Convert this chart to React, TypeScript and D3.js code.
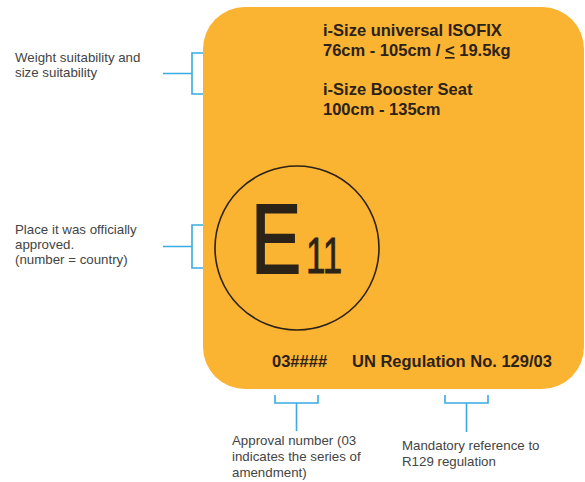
import React from 'react'
import * as d3 from 'd3'

// label texts
const labelLines = ['i-Size universal ISOFIX', '76cm - 105cm / ', 'i-Size Booster Seat', '100cm - 135cm']
const weightNote = ['Weight suitability and', 'size suitability']
const placeNote = ['Place it was officially', 'approved.', '(number = country)']
const approvalNote = ['Approval number (03', 'indicates the series of', 'amendment)']
const regulationNote = ['Mandatory reference to', 'R129 regulation']
const approvalCode = '03####'
const regulationText = 'UN Regulation No. 129/03'

const W = 585
const H = 482
const ORANGE = '#FBB332'
const BLUE = '#3AAAE2'
const INK = '#2b2218'
const GRAY = '#444'

function roundedRect(x0: number, y0: number, x1: number, y1: number, r: number) {
  const p = d3.path()
  p.moveTo(x0 + r, y0)
  p.lineTo(x1 - r, y0)
  p.arcTo(x1, y0, x1, y0 + r, r)
  p.lineTo(x1, y1 - r)
  p.arcTo(x1, y1, x1 - r, y1, r)
  p.lineTo(x0 + r, y1)
  p.arcTo(x0, y1, x0, y1 - r, r)
  p.lineTo(x0, y0 + r)
  p.arcTo(x0, y0, x0 + r, y0, r)
  p.closePath()
  return p.toString()
}

// side bracket: stem from left, vertical bar, ticks to the right
function sideBracket(xStem: number, xBar: number, xTip: number, yTop: number, yBot: number) {
  const yMid = (yTop + yBot) / 2
  const p = d3.path()
  p.moveTo(xStem, yMid); p.lineTo(xBar, yMid)
  p.moveTo(xTip, yTop); p.lineTo(xBar, yTop); p.lineTo(xBar, yBot); p.lineTo(xTip, yBot)
  return p.toString()
}

function bottomBracket(xL: number, xR: number, yTick: number, yBar: number, yStem: number) {
  const xMid = (xL + xR) / 2
  const p = d3.path()
  p.moveTo(xL, yTick); p.lineTo(xL, yBar); p.lineTo(xR, yBar); p.lineTo(xR, yTick)
  p.moveTo(xMid, yBar); p.lineTo(xMid, yStem)
  return p.toString()
}

export default function App() {
  const bold = { fontFamily: 'Liberation Sans, Arial, sans-serif', fontWeight: 700, fontSize: 16.5, fill: INK }
  const note = { fontFamily: 'Liberation Sans, Arial, sans-serif', fontSize: 13.3, fill: GRAY }
  const lineY = [36, 56, 95, 115]
  return (
    <svg width={W} height={H} style={{ position: 'absolute', left: 0, top: 0, background: '#fff' }}>
      <path d={roundedRect(203, 7, 584, 389, 42)} fill={ORANGE} />

      <g {...bold}>
        {labelLines.map((t, i) => (
          <text key={i} x={323} y={lineY[i]}>
            {t}
            {i === 1 && (
              <>
                <tspan textDecoration="underline">{'<'}</tspan>
                <tspan>{' 19.5kg'}</tspan>
              </>
            )}
          </text>
        ))}
        <text x={272} y={367}>{approvalCode}</text>
        <text x={352} y={367}>{regulationText}</text>
      </g>

      <circle cx={297} cy={248} r={82} fill="none" stroke={INK} strokeWidth={1.6} />
      <text
        transform="translate(251,273) scale(0.76,1)"
        fontFamily="Liberation Sans, Arial, sans-serif"
        fontSize={99}
        fill={INK}
        stroke={INK}
        strokeWidth={1.8}
      >
        E
      </text>
      <text
        transform="translate(306,273) scale(0.7,1)"
        fontFamily="Liberation Sans, Arial, sans-serif"
        fontSize={50}
        fill={INK}
        stroke={INK}
        strokeWidth={0.8}
      >
        11
      </text>

      <g fill="none" stroke={BLUE} strokeWidth={1.6}>
        <path d={sideBracket(163, 192, 203, 53, 94)} />
        <path d={sideBracket(163, 192, 203, 225, 268)} />
        <path d={bottomBracket(275, 318, 395, 403, 431)} />
        <path d={bottomBracket(445, 488, 395, 403, 432)} />
      </g>

      <g {...note}>
        {weightNote.map((t, i) => (
          <text key={i} x={15} y={62 + i * 15}>{t}</text>
        ))}
        {placeNote.map((t, i) => (
          <text key={i} x={15} y={234 + i * 15}>{t}</text>
        ))}
        {approvalNote.map((t, i) => (
          <text key={i} x={232} y={445 + i * 16}>{t}</text>
        ))}
        {regulationNote.map((t, i) => (
          <text key={i} x={402} y={450 + i * 16}>{t}</text>
        ))}
      </g>
    </svg>
  )
}
